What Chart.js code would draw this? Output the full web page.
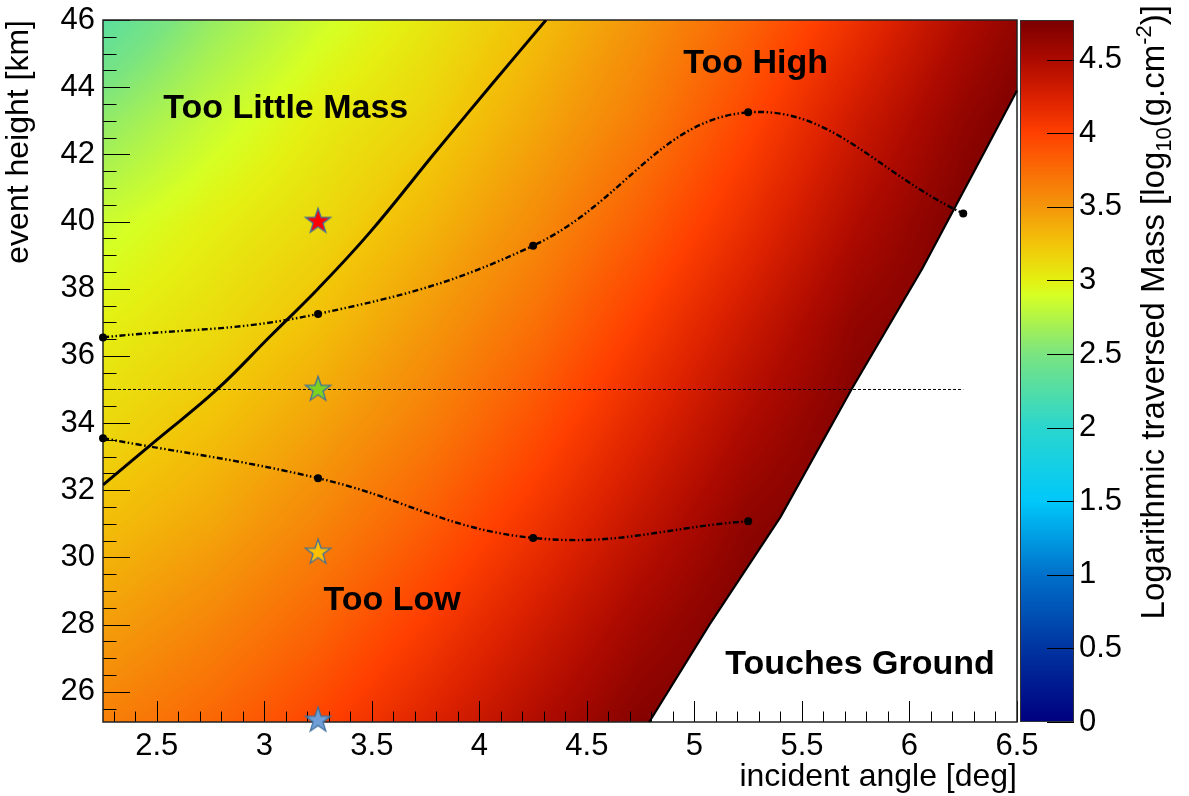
<!DOCTYPE html>
<html lang="en">
<head>
<meta charset="UTF-8">
<title>Traversed mass vs incident angle and event height</title>
<script src="https://cdn.jsdelivr.net/npm/chart.js@4.4.1/dist/chart.umd.min.js"></script>
<style>
  body { margin: 0; background: #ffffff; }
  #wrap { width: 1189px; height: 796px; }
</style>
</head>
<body>
<div id="wrap"><canvas id="massChart" width="1189" height="796"></canvas></div>
<script>
// log10 traversed mass at grid nodes (angle in deg, height in km)
const gridAngles = [2.25, 2.75, 3.25, 3.75, 4.25, 4.75, 5.25, 5.75, 6.25, 6.5];
const gridHeights = [25.1, 28, 31, 34, 37, 40, 43, 46];
const massGrid = [
  [3.63, 3.78, 3.98, 4.22, 4.47, 4.71, 4.80, 4.80, 4.80, 4.80], // 25.1 km
  [3.45, 3.60, 3.79, 4.03, 4.29, 4.56, 4.76, 4.80, 4.80, 4.80], // 28
  [3.28, 3.41, 3.60, 3.83, 4.09, 4.38, 4.66, 4.78, 4.80, 4.80], // 31
  [3.13, 3.26, 3.43, 3.64, 3.90, 4.20, 4.50, 4.74, 4.80, 4.80], // 34
  [3.00, 3.11, 3.27, 3.48, 3.72, 4.02, 4.33, 4.64, 4.78, 4.80], // 37
  [2.85, 3.00, 3.13, 3.32, 3.55, 3.83, 4.14, 4.48, 4.75, 4.80], // 40
  [2.60, 2.83, 3.02, 3.17, 3.40, 3.65, 3.97, 4.32, 4.64, 4.76], // 43
  [2.30, 2.62, 2.86, 3.05, 3.27, 3.52, 3.80, 4.12, 4.48, 4.64]  // 46
];

// edge of the "touches ground" region
const groundAngles = [4.79, 5.07, 5.40, 5.73, 6.06, 6.33, 6.50];
const groundHeights = [25.1, 28.0, 31.2, 35.0, 38.6, 41.85, 43.9];

// dash-dot graphs
const upperAngles = [2.25, 3.25, 4.25, 5.25, 6.25];
const upperHeights = [36.55, 37.25, 39.28, 43.25, 40.24];
const lowerAngles = [2.25, 3.25, 4.25, 5.25];
const lowerHeights = [33.55, 32.36, 30.58, 31.08];

// solid line (mass limit)
const limitAngles = [2.25, 2.50, 2.78, 3.03, 3.25, 3.49, 3.80, 4.06, 4.31];
const limitHeights = [32.16, 33.5, 35.0, 36.6, 38.0, 39.67, 42.1, 44.1, 46.0];

// dashed reference at 35 km
const refAngles = [2.25, 6.25];
const refHeights = [35, 35];

// star markers
const starAngles = [3.25, 3.25, 3.25, 3.25];
const starHeights = [40.0, 35.0, 30.15, 25.15];
const starColors = ['#ff0000', '#7ed321', '#ffc000', '#6f9fd6'];

// axis ticks
const xTicks = [2.5, 3, 3.5, 4, 4.5, 5, 5.5, 6, 6.5];
const yTicks = [26, 28, 30, 32, 34, 36, 38, 40, 42, 44, 46];
const zTicks = [0, 0.5, 1, 1.5, 2, 2.5, 3, 3.5, 4, 4.5];

// region labels (anchor = centre, baseline)
const regionLabels = ['Too Little Mass', 'Too High', 'Too Low', 'Touches Ground'];
const regionAngles = [3.10, 5.285, 3.594, 5.77];
const regionHeights = [43.07, 44.41, 28.43, 26.52];

// colour palette
const paletteStops = [0, 0.5, 1.0, 1.5, 2.0, 2.5, 2.9, 3.0, 3.25, 3.5, 3.75, 4.0, 4.25, 4.5, 4.77];
const paletteRGB = [[0,0,128],[0,52,160],[0,112,202],[0,200,250],[42,214,206],[122,228,128],
  [214,255,36],[228,240,18],[242,196,8],[244,150,10],[250,108,6],[255,64,0],[218,32,0],[172,10,0],[122,0,0]];
const zMin = 0, zMax = 4.77;

const FONT = '"Liberation Sans", Arial, Helvetica, sans-serif';

// lookup table for the palette
const LUT_N = 1000;
const lut = [];
for (let n = 0; n <= LUT_N; n++) {
  const z = zMin + (zMax - zMin) * n / LUT_N;
  let k = 1;
  while (k < paletteStops.length - 1 && z > paletteStops[k]) k++;
  const t = Math.min(1, Math.max(0, (z - paletteStops[k - 1]) / (paletteStops[k] - paletteStops[k - 1])));
  const c0 = paletteRGB[k - 1], c1 = paletteRGB[k];
  lut.push([0, 1, 2].map(c => Math.round(c0[c] + t * (c1[c] - c0[c]))));
}
function colourFor(z) {
  const n = Math.round((z - zMin) / (zMax - zMin) * LUT_N);
  return lut[Math.min(LUT_N, Math.max(0, n))];
}

function massAt(a, h) {
  let i = 0;
  while (i < gridAngles.length - 2 && a > gridAngles[i + 1]) i++;
  let j = 0;
  while (j < gridHeights.length - 2 && h > gridHeights[j + 1]) j++;
  const tx = Math.min(1, Math.max(0, (a - gridAngles[i]) / (gridAngles[i + 1] - gridAngles[i])));
  const ty = Math.min(1, Math.max(0, (h - gridHeights[j]) / (gridHeights[j + 1] - gridHeights[j])));
  const lo = massGrid[j][i] * (1 - tx) + massGrid[j][i + 1] * tx;
  const hi = massGrid[j + 1][i] * (1 - tx) + massGrid[j + 1][i + 1] * tx;
  return lo * (1 - ty) + hi * ty;
}

function toPoints(xs, ys) {
  return xs.map((v, k) => ({ x: v, y: ys[k] }));
}

function makeStar(fill) {
  const c = document.createElement('canvas');
  c.width = 32; c.height = 32;
  const g = c.getContext('2d');
  const R = 13.2, r = 5.2;
  g.beginPath();
  for (let k = 0; k < 10; k++) {
    const rad = k % 2 ? r : R;
    const ang = -Math.PI / 2 + k * Math.PI / 5;
    g.lineTo(16 + rad * Math.cos(ang), 16 + rad * Math.sin(ang));
  }
  g.closePath();
  g.fillStyle = fill;
  g.fill();
  g.lineWidth = 1.3;
  g.strokeStyle = '#41719c';
  g.stroke();
  return c;
}

// keep the axes from pushing the plot area around
function fixBox(size) {
  return s => {
    if (s.isHorizontal()) s.height = size; else s.width = size;
    s.paddingTop = 0; s.paddingBottom = 0; s.paddingLeft = 0; s.paddingRight = 0;
  };
}
const plainLabel = v => String(v);

// heatmap, clipped to the region above the ground edge, then frame with inward ticks
const heatmapPlugin = {
  id: 'massHeatmap',
  beforeDatasetsDraw(chart) {
    const { ctx, chartArea: a, scales: { x, y } } = chart;
    const w = Math.round(a.right - a.left), h = Math.round(a.bottom - a.top);
    const off = document.createElement('canvas');
    off.width = w; off.height = h;
    const octx = off.getContext('2d');
    const img = octx.createImageData(w, h);
    for (let j = 0; j < h; j++) {
      const hv = y.getValueForPixel(a.top + j + 0.5);
      for (let i = 0; i < w; i++) {
        const c = colourFor(massAt(x.getValueForPixel(a.left + i + 0.5), hv));
        const k = (j * w + i) * 4;
        img.data[k] = c[0]; img.data[k + 1] = c[1]; img.data[k + 2] = c[2]; img.data[k + 3] = 255;
      }
    }
    octx.putImageData(img, 0, 0);

    ctx.save();
    ctx.beginPath();
    ctx.moveTo(a.left, a.bottom);
    for (let k = 0; k < groundAngles.length; k++) {
      ctx.lineTo(x.getPixelForValue(groundAngles[k]), y.getPixelForValue(groundHeights[k]));
    }
    ctx.lineTo(a.right, a.top);
    ctx.lineTo(a.left, a.top);
    ctx.closePath();
    ctx.clip();
    ctx.drawImage(off, a.left, a.top);
    ctx.restore();

    ctx.save();
    ctx.strokeStyle = '#000';
    ctx.lineWidth = 1;
    ctx.beginPath();
    for (let k = Math.ceil(x.min * 10 - 1e-6); k <= Math.floor(x.max * 10 + 1e-6); k++) {
      const px = Math.round(x.getPixelForValue(k / 10)) + 0.5;
      const len = k % 5 === 0 ? 21 : 10.5;
      ctx.moveTo(px, a.bottom);
      ctx.lineTo(px, a.bottom - len);
    }
    for (let k = Math.ceil(y.min * 2 - 1e-6); k <= Math.floor(y.max * 2 + 1e-6); k++) {
      const py = Math.round(y.getPixelForValue(k / 2)) + 0.5;
      const len = k % 4 === 0 ? 27 : 13.5;
      ctx.moveTo(a.left, py);
      ctx.lineTo(a.left + len, py);
    }
    ctx.stroke();
    ctx.lineWidth = 1.5;
    ctx.strokeStyle = '#222';
    ctx.strokeRect(a.left, a.top, a.right - a.left, a.bottom - a.top);
    ctx.restore();
  }
};

// region names
const labelPlugin = {
  id: 'regionLabels',
  afterDatasetsDraw(chart) {
    const { ctx, scales: { x, y } } = chart;
    ctx.save();
    ctx.font = 'bold 34px ' + FONT;
    ctx.fillStyle = '#000';
    ctx.textAlign = 'center';
    ctx.textBaseline = 'alphabetic';
    regionLabels.forEach((t, k) => {
      ctx.fillText(t, x.getPixelForValue(regionAngles[k]), y.getPixelForValue(regionHeights[k]));
    });
    ctx.restore();
  }
};

// colour bar beside the plot, on the z scale
const colorbarPlugin = {
  id: 'colorbar',
  afterDraw(chart) {
    const { ctx, chartArea: a, scales: { z } } = chart;
    const left = a.right + 3, right = a.right + 57;
    ctx.save();
    for (let py = Math.floor(z.top); py < Math.ceil(z.bottom); py++) {
      const c = colourFor(z.getValueForPixel(py + 0.5));
      ctx.fillStyle = 'rgb(' + c[0] + ',' + c[1] + ',' + c[2] + ')';
      ctx.fillRect(left, py, right - left, 1);
    }
    ctx.strokeStyle = '#333';
    ctx.lineWidth = 1;
    ctx.strokeRect(left + 0.5, z.top + 0.5, right - left - 1, z.bottom - z.top - 1);
    ctx.strokeStyle = '#000';
    ctx.beginPath();
    zTicks.forEach(v => {
      const py = Math.round(z.getPixelForValue(v)) + 0.5;
      ctx.moveTo(right, py);
      ctx.lineTo(right - 27, py);
    });
    ctx.stroke();

    // title: Logarithmic traversed Mass [log_10(g.cm^-2)]
    const parts = [
      { t: 'Logarithmic traversed Mass [log', size: 33, shift: 0 },
      { t: '10', size: 22, shift: 7 },
      { t: '(g.cm', size: 33, shift: 0 },
      { t: '-2', size: 22, shift: -13 },
      { t: ')]', size: 33, shift: 0 }
    ];
    let total = 0;
    parts.forEach(p => { ctx.font = p.size + 'px ' + FONT; p.w = ctx.measureText(p.t).width; total += p.w; });
    ctx.translate(1164, 5 + total);
    ctx.rotate(-Math.PI / 2);
    ctx.fillStyle = '#000';
    ctx.textBaseline = 'alphabetic';
    ctx.textAlign = 'left';
    let cx = 0;
    parts.forEach(p => {
      ctx.font = p.size + 'px ' + FONT;
      ctx.fillText(p.t, cx, p.shift);
      cx += p.w;
    });
    ctx.restore();
  }
};

const starImages = starColors.map(makeStar);

const dashDotDot = [6, 2.5, 1.5, 2.5, 1.5, 2.5];

new Chart(document.getElementById('massChart'), {
  type: 'scatter',
  data: {
    datasets: [
      {
        label: 'events',
        data: toPoints(starAngles, starHeights),
        pointStyle: starImages,
        pointRadius: 13,
        showLine: false,
        clip: false
      },
      {
        label: 'upper',
        data: toPoints(upperAngles, upperHeights),
        showLine: true,
        borderColor: '#000',
        borderWidth: 2.4,
        borderDash: dashDotDot,
        tension: 0.4,
        pointRadius: 4,
        pointBackgroundColor: '#000',
        pointBorderWidth: 0,
        clip: false
      },
      {
        label: 'lower',
        data: toPoints(lowerAngles, lowerHeights),
        showLine: true,
        borderColor: '#000',
        borderWidth: 2.4,
        borderDash: dashDotDot,
        tension: 0.4,
        pointRadius: 4,
        pointBackgroundColor: '#000',
        pointBorderWidth: 0,
        clip: false
      },
      {
        label: 'limit',
        data: toPoints(limitAngles, limitHeights),
        showLine: true,
        borderColor: '#000',
        borderWidth: 3,
        tension: 0.4,
        pointRadius: 0
      },
      {
        label: 'reference',
        data: toPoints(refAngles, refHeights),
        showLine: true,
        borderColor: '#000',
        borderWidth: 1,
        borderDash: [3, 2],
        pointRadius: 0
      },
      {
        label: 'ground',
        data: toPoints(groundAngles, groundHeights),
        showLine: true,
        borderColor: '#000',
        borderWidth: 2.2,
        tension: 0,
        pointRadius: 0,
        clip: false
      }
    ]
  },
  options: {
    responsive: false,
    animation: false,
    events: [],
    layout: { padding: { top: 20, left: 0, right: 0, bottom: 0 } },
    plugins: { legend: { display: false }, tooltip: { enabled: false } },
    scales: {
      x: {
        type: 'linear', min: 2.25, max: 6.5,
        grid: { display: false, drawTicks: false },
        border: { display: false },
        afterBuildTicks: s => { s.ticks = xTicks.map(v => ({ value: v })); },
        afterFit: fixBox(74),
        ticks: { font: { family: FONT, size: 31 }, color: '#000', padding: 6, maxRotation: 0,
                 autoSkip: false, callback: plainLabel },
        title: { display: true, text: 'incident angle [deg]', align: 'end', color: '#000',
                 font: { family: FONT, size: 32 }, padding: 0 }
      },
      y: {
        type: 'linear', position: 'left', min: 25.1, max: 46,
        grid: { display: false, drawTicks: false },
        border: { display: false },
        afterBuildTicks: s => { s.ticks = yTicks.map(v => ({ value: v })); },
        afterFit: fixBox(103),
        ticks: { font: { family: FONT, size: 31 }, color: '#000', padding: 8, autoSkip: false,
                 callback: plainLabel },
        title: { display: true, text: 'event height [km]', align: 'end', color: '#000',
                 font: { family: FONT, size: 32 }, padding: 0 }
      },
      z: {
        type: 'linear', position: 'right', min: zMin, max: zMax,
        grid: { display: false, drawTicks: false },
        border: { display: false },
        afterBuildTicks: s => { s.ticks = zTicks.map(v => ({ value: v })); },
        afterFit: fixBox(172),
        ticks: { font: { family: FONT, size: 31 }, color: '#000', padding: 62, autoSkip: false,
                 callback: plainLabel }
      }
    }
  },
  plugins: [heatmapPlugin, labelPlugin, colorbarPlugin]
});
</script>
</body>
</html>
